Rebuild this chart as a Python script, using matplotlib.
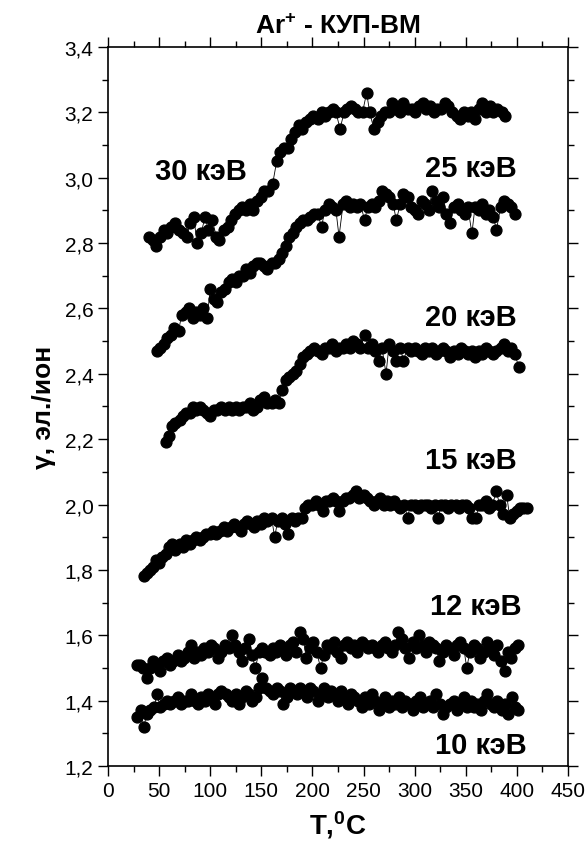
#!/usr/bin/env python3
# -*- coding: utf-8 -*-
"""
Ar+ - КУП-ВМ: коэффициент ион-электронной эмиссии γ от температуры
для энергий ионов 10-30 кэВ.
"""

import matplotlib
matplotlib.use("Agg")
import matplotlib.pyplot as plt
from matplotlib.ticker import MultipleLocator, FuncFormatter

# ---- данные ----
T_30 = [40, 44, 47, 51, 55, 58, 62, 66, 69, 73, 77, 80, 84, 87, 91, 95, 98, 102,
        106, 109, 113, 117, 120, 124, 128, 131, 135, 139, 142, 146, 150, 153,
        157, 161, 165, 168, 172, 176, 179, 183, 187, 190, 194, 198, 201, 205,
        209, 212, 216, 220, 223, 227, 231, 234, 238, 242, 245, 249, 253, 256,
        260, 264, 267, 271, 275, 278, 282, 286, 289, 293, 297, 300, 304, 308,
        311, 315, 319, 322, 326, 330, 333, 337, 341, 344, 348, 352, 355, 359,
        363, 366, 370, 374, 377, 381, 385, 388]
g_30 = [2.82, 2.81, 2.79, 2.82, 2.84, 2.83, 2.85, 2.86, 2.84, 2.83, 2.82, 2.86,
        2.88, 2.80, 2.83, 2.88, 2.84, 2.87, 2.82, 2.81, 2.84, 2.85, 2.87, 2.89,
        2.90, 2.91, 2.90, 2.92, 2.90, 2.93, 2.94, 2.96, 2.96, 2.98, 3.05, 3.08,
        3.09, 3.09, 3.12, 3.14, 3.16, 3.15, 3.17, 3.18, 3.19, 3.18, 3.20, 3.19,
        3.20, 3.21, 3.20, 3.15, 3.20, 3.21, 3.22, 3.21, 3.20, 3.20, 3.26, 3.20,
        3.15, 3.17, 3.19, 3.20, 3.20, 3.23, 3.21, 3.20, 3.23, 3.21, 3.21, 3.20,
        3.22, 3.23, 3.21, 3.22, 3.20, 3.21, 3.21, 3.23, 3.22, 3.20, 3.19, 3.18,
        3.20, 3.19, 3.20, 3.18, 3.21, 3.23, 3.20, 3.22, 3.20, 3.21, 3.20, 3.19]

T_25 = [48, 51, 55, 58, 62, 65, 69, 72, 76, 79, 83, 86, 90, 93, 97, 100, 104,
        107, 111, 114, 118, 121, 125, 128, 132, 135, 139, 142, 146, 149, 153,
        156, 160, 163, 167, 170, 174, 177, 181, 184, 188, 191, 195, 198, 202,
        205, 209, 212, 216, 219, 223, 226, 230, 233, 237, 240, 244, 247, 251,
        254, 258, 261, 265, 268, 272, 275, 279, 282, 286, 289, 293, 296, 300,
        303, 307, 310, 314, 317, 321, 324, 328, 331, 335, 338, 342, 345, 349,
        352, 356, 359, 363, 366, 370, 373, 377, 380, 384, 387, 391, 394, 398]
g_25 = [2.47, 2.48, 2.49, 2.51, 2.52, 2.54, 2.53, 2.58, 2.59, 2.60, 2.57, 2.59,
        2.58, 2.60, 2.57, 2.66, 2.63, 2.62, 2.65, 2.66, 2.68, 2.69, 2.68, 2.70,
        2.70, 2.72, 2.71, 2.73, 2.74, 2.74, 2.73, 2.72, 2.74, 2.74, 2.75, 2.77,
        2.79, 2.82, 2.83, 2.85, 2.86, 2.87, 2.87, 2.88, 2.89, 2.89, 2.85, 2.90,
        2.92, 2.91, 2.90, 2.82, 2.92, 2.93, 2.91, 2.92, 2.91, 2.92, 2.87, 2.91,
        2.92, 2.91, 2.93, 2.96, 2.95, 2.94, 2.92, 2.87, 2.92, 2.95, 2.94, 2.91,
        2.90, 2.89, 2.93, 2.92, 2.90, 2.96, 2.93, 2.91, 2.94, 2.89, 2.86, 2.91,
        2.92, 2.90, 2.89, 2.91, 2.83, 2.91, 2.90, 2.92, 2.89, 2.90, 2.88, 2.84,
        2.91, 2.93, 2.92, 2.91, 2.89]

T_20 = [57, 60, 63, 66, 70, 73, 76, 80, 83, 86, 90, 93, 97, 100, 104, 107, 111,
        114, 118, 121, 125, 128, 132, 135, 139, 142, 146, 149, 153, 156, 160,
        163, 167, 170, 174, 177, 181, 184, 188, 191, 195, 198, 202, 205, 209,
        212, 216, 219, 223, 226, 230, 233, 237, 240, 244, 247, 251, 254, 258,
        261, 265, 268, 272, 275, 279, 282, 286, 289, 293, 296, 300, 303, 307,
        310, 314, 317, 321, 324, 328, 331, 335, 338, 342, 345, 349, 352, 356,
        359, 363, 366, 370, 373, 377, 380, 384, 387, 391, 394, 398, 402]
g_20 = [2.19, 2.21, 2.24, 2.25, 2.26, 2.27, 2.28, 2.28, 2.30, 2.29, 2.30, 2.29,
        2.28, 2.27, 2.29, 2.29, 2.30, 2.29, 2.30, 2.29, 2.30, 2.29, 2.30, 2.30,
        2.31, 2.29, 2.30, 2.32, 2.33, 2.31, 2.31, 2.32, 2.31, 2.35, 2.38, 2.39,
        2.40, 2.41, 2.43, 2.45, 2.46, 2.47, 2.48, 2.47, 2.46, 2.48, 2.48, 2.49,
        2.47, 2.48, 2.48, 2.49, 2.48, 2.50, 2.49, 2.48, 2.52, 2.48, 2.49, 2.47,
        2.44, 2.48, 2.40, 2.49, 2.47, 2.44, 2.48, 2.44, 2.48, 2.47, 2.48, 2.47,
        2.46, 2.48, 2.47, 2.48, 2.46, 2.47, 2.48, 2.47, 2.45, 2.47, 2.46, 2.48,
        2.47, 2.46, 2.47, 2.45, 2.47, 2.46, 2.48, 2.47, 2.46, 2.47, 2.48, 2.49,
        2.47, 2.48, 2.46, 2.42]

T_15 = [35, 38, 41, 44, 47, 50, 53, 57, 60, 63, 66, 70, 73, 76, 80, 83, 86, 90,
        93, 96, 100, 103, 106, 110, 113, 116, 120, 123, 126, 130, 133, 136, 140,
        143, 146, 150, 153, 156, 160, 163, 166, 170, 173, 176, 180, 183, 186,
        190, 193, 196, 200, 203, 206, 210, 213, 216, 220, 223, 226, 230, 233,
        236, 240, 243, 246, 250, 253, 256, 260, 263, 266, 270, 273, 276, 280,
        283, 286, 290, 293, 296, 300, 303, 306, 310, 313, 316, 320, 323, 326,
        330, 333, 336, 340, 343, 346, 350, 353, 356, 360, 363, 366, 370, 373,
        376, 380, 383, 386, 390, 393, 396, 400, 403, 406, 410]
g_15 = [1.78, 1.79, 1.80, 1.81, 1.83, 1.82, 1.84, 1.85, 1.87, 1.88, 1.86, 1.88,
        1.87, 1.89, 1.88, 1.89, 1.90, 1.89, 1.90, 1.91, 1.91, 1.92, 1.91, 1.92,
        1.93, 1.92, 1.93, 1.94, 1.93, 1.92, 1.94, 1.95, 1.94, 1.93, 1.95, 1.94,
        1.96, 1.95, 1.96, 1.90, 1.95, 1.96, 1.94, 1.91, 1.96, 1.95, 1.96, 1.96,
        1.99, 2.00, 2.00, 2.01, 2.00, 1.98, 2.01, 2.01, 2.02, 2.01, 1.98, 2.01,
        2.02, 2.02, 2.03, 2.04, 2.02, 2.03, 2.02, 2.01, 2.00, 2.01, 2.02, 2.00,
        2.01, 2.00, 2.01, 2.00, 1.99, 2.00, 1.96, 2.00, 2.00, 1.99, 2.00, 2.00,
        2.00, 1.99, 2.00, 1.96, 2.00, 2.00, 1.99, 2.00, 2.00, 1.99, 2.00, 2.00,
        1.99, 1.96, 1.96, 2.00, 2.00, 2.01, 1.99, 2.00, 2.04, 2.00, 1.97, 2.03,
        1.96, 1.97, 1.98, 1.99, 1.99, 1.99]

T_12 = [28, 31, 34, 38, 41, 44, 48, 51, 54, 58, 61, 64, 68, 71, 74, 78, 81, 84,
        88, 91, 94, 98, 101, 104, 108, 111, 114, 118, 121, 124, 128, 131, 134,
        138, 141, 144, 148, 151, 154, 158, 161, 164, 168, 171, 174, 178, 181,
        184, 188, 191, 194, 198, 201, 204, 208, 211, 214, 218, 221, 224, 228,
        231, 234, 238, 241, 244, 248, 251, 254, 258, 261, 264, 268, 271, 274,
        278, 281, 284, 288, 291, 294, 298, 301, 304, 308, 311, 314, 318, 321,
        324, 328, 331, 334, 338, 341, 344, 348, 351, 354, 358, 361, 364, 368,
        371, 374, 378, 381, 384, 388, 391, 394, 398, 401]
g_12 = [1.51, 1.51, 1.50, 1.47, 1.50, 1.52, 1.51, 1.49, 1.52, 1.53, 1.51, 1.52,
        1.54, 1.52, 1.53, 1.55, 1.57, 1.53, 1.55, 1.54, 1.56, 1.55, 1.57, 1.56,
        1.53, 1.55, 1.57, 1.56, 1.60, 1.57, 1.55, 1.52, 1.56, 1.59, 1.54, 1.50,
        1.55, 1.56, 1.55, 1.54, 1.56, 1.55, 1.57, 1.56, 1.54, 1.57, 1.58, 1.55,
        1.61, 1.59, 1.53, 1.56, 1.58, 1.55, 1.50, 1.54, 1.57, 1.56, 1.58, 1.55,
        1.53, 1.57, 1.58, 1.56, 1.57, 1.55, 1.58, 1.57, 1.56, 1.57, 1.56, 1.55,
        1.57, 1.58, 1.56, 1.55, 1.57, 1.61, 1.59, 1.56, 1.53, 1.58, 1.56, 1.60,
        1.57, 1.55, 1.58, 1.57, 1.56, 1.52, 1.55, 1.57, 1.56, 1.54, 1.57, 1.58,
        1.56, 1.50, 1.55, 1.57, 1.56, 1.53, 1.55, 1.58, 1.56, 1.54, 1.57, 1.52,
        1.49, 1.55, 1.53, 1.56, 1.57]

T_10 = [28, 32, 35, 38, 41, 45, 48, 51, 55, 58, 61, 65, 68, 71, 75, 78, 81, 85,
        88, 91, 95, 98, 101, 105, 108, 111, 115, 118, 121, 125, 128, 131, 135,
        138, 141, 145, 148, 151, 155, 158, 161, 165, 168, 171, 175, 178, 181,
        185, 188, 191, 195, 198, 201, 205, 208, 211, 215, 218, 221, 225, 228,
        231, 235, 238, 241, 245, 248, 251, 255, 258, 261, 265, 268, 271, 275,
        278, 281, 285, 288, 291, 295, 298, 301, 305, 308, 311, 315, 318, 321,
        325, 328, 331, 335, 338, 341, 345, 348, 351, 355, 358, 361, 365, 368,
        371, 375, 378, 381, 385, 388, 391, 395, 398, 401]
g_10 = [1.35, 1.37, 1.32, 1.36, 1.37, 1.38, 1.42, 1.38, 1.39, 1.40, 1.39, 1.40,
        1.41, 1.39, 1.40, 1.40, 1.42, 1.40, 1.39, 1.41, 1.40, 1.42, 1.41, 1.39,
        1.42, 1.43, 1.42, 1.41, 1.40, 1.42, 1.39, 1.41, 1.43, 1.42, 1.40, 1.41,
        1.44, 1.47, 1.44, 1.43, 1.42, 1.44, 1.43, 1.39, 1.41, 1.44, 1.43, 1.42,
        1.44, 1.43, 1.41, 1.44, 1.43, 1.40, 1.42, 1.44, 1.41, 1.43, 1.42, 1.40,
        1.43, 1.41, 1.39, 1.42, 1.41, 1.40, 1.38, 1.41, 1.39, 1.42, 1.40, 1.37,
        1.39, 1.41, 1.38, 1.40, 1.39, 1.41, 1.38, 1.40, 1.39, 1.37, 1.40, 1.41,
        1.38, 1.39, 1.40, 1.38, 1.42, 1.39, 1.36, 1.38, 1.39, 1.40, 1.37, 1.39,
        1.41, 1.38, 1.40, 1.38, 1.39, 1.37, 1.40, 1.42, 1.39, 1.38, 1.40, 1.37,
        1.39, 1.36, 1.41, 1.38, 1.37]

series = [(T_30, g_30), (T_25, g_25), (T_20, g_20),
          (T_15, g_15), (T_12, g_12), (T_10, g_10)]

# подписи кривых: текст, x, y, выравнивание
labels = ["30 кэВ", "25 кэВ", "20 кэВ", "15 кэВ", "12 кэВ", "10 кэВ"]
label_x = [46, 400, 400, 400, 405, 410]
label_y = [3.02, 3.03, 2.575, 2.135, 1.69, 1.265]
label_ha = ["left", "right", "right", "right", "right", "right"]

plt.rcParams.update({
    'font.family': ['Liberation Sans', 'DejaVu Sans'],
    'mathtext.fontset': 'custom',
    'mathtext.rm': 'Liberation Sans:bold',
    'mathtext.default': 'rm',
})

fig = plt.figure(figsize=(5.87, 8.45), dpi=100)
ax = fig.add_axes([108 / 587, 1 - 767 / 845, 460 / 587, 719 / 845])

for T, g in series:
    ax.plot(T, g, '-', color='black', linewidth=0.6, marker='o',
            markersize=7.8, markerfacecolor='black', markeredgecolor='black')

for txt, x, y, ha in zip(labels, label_x, label_y, label_ha):
    ax.text(x, y, txt, ha=ha, va='center', fontsize=21, fontweight='bold')

ax.set_xlim(0, 450)
ax.set_ylim(1.2, 3.4)
ax.xaxis.set_major_locator(MultipleLocator(50))
ax.xaxis.set_minor_locator(MultipleLocator(25))
ax.yaxis.set_major_locator(MultipleLocator(0.2))
ax.yaxis.set_minor_locator(MultipleLocator(0.1))
ax.yaxis.set_major_formatter(FuncFormatter(lambda v, _: f"{v:.1f}".replace('.', ',')))

ax.tick_params(which='both', direction='out', top=True, right=True,
               labelsize=15, width=1.0)
ax.tick_params(which='major', length=7)
ax.tick_params(which='minor', length=4)
for sp in ax.spines.values():
    sp.set_linewidth(1.2)

ax.set_title('Ar$^{+}$ - КУП-ВМ', fontsize=19, fontweight='bold', pad=10)
ax.set_xlabel('T,$^{0}$C', fontsize=20, fontweight='bold', labelpad=6)
ax.set_ylabel('γ, эл./ион', fontsize=19, fontweight='bold', labelpad=6)

fig.savefig('out.png', dpi=100, facecolor='white')
plt.close(fig)
